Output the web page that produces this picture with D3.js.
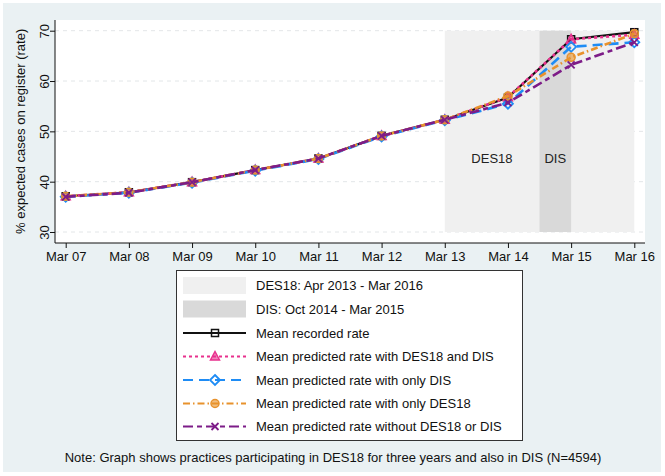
<!DOCTYPE html>
<html>
<head>
<meta charset="utf-8">
<script src="https://cdn.jsdelivr.net/npm/d3@7"></script>
<style>
  body { margin: 0; background: #fff; }
  svg { font-family: "Liberation Sans", Arial, sans-serif; }
</style>
</head>
<body>
<div class="chart"></div>
<script>
// years on the x axis
let years = ["Mar 07", "Mar 08", "Mar 09", "Mar 10", "Mar 11", "Mar 12", "Mar 13", "Mar 14", "Mar 15", "Mar 16"]
let yTicks = [30, 40, 50, 60, 70]

let recorded    = [37.1, 37.9, 39.9, 42.3, 44.6, 49.1, 52.3, 56.7, 68.3, 69.7]
let desAndDis   = [37.1, 37.9, 39.9, 42.3, 44.6, 49.1, 52.3, 56.8, 68.3, 69.2]
let onlyDis     = [37.0, 37.8, 39.8, 42.2, 44.5, 49.0, 52.2, 55.5, 66.8, 67.7]
let onlyDes     = [37.1, 37.9, 39.9, 42.3, 44.6, 49.1, 52.3, 57.0, 64.7, 69.4]
let withoutBoth = [37.0, 37.8, 39.9, 42.3, 44.6, 49.1, 52.3, 55.7, 63.2, 67.7]

// shaded periods, in x-index units (Mar 13 = 6)
let des18Period = [6, 9]
let disPeriod = [7.5, 8]

let series = [
  { name: "Mean recorded rate", values: recorded, color: "#111111", dash: null, marker: "square" },
  { name: "Mean predicted rate with DES18 and DIS", values: desAndDis, color: "#e8318d", dash: "3,3", marker: "triangle" },
  { name: "Mean predicted rate with only DIS", values: onlyDis, color: "#1e8cf5", dash: "10,6", marker: "diamond" },
  { name: "Mean predicted rate with only DES18", values: onlyDes, color: "#e8922c", dash: "7,3,1.5,3", marker: "circle" },
  { name: "Mean predicted rate without DES18 or DIS", values: withoutBoth, color: "#7d1c88", dash: "10,4,5,4", marker: "cross" }
]

let width = 665
let height = 476
let plot = { left: 55, right: 645, top: 20, bottom: 243 }
let fontSize = 13

let svg = d3.select(".chart")
  .append("svg")
  .attr("width", width)
  .attr("height", height)

svg.append("rect")
  .attr("x", 3).attr("y", 3)
  .attr("width", 658).attr("height", 469)
  .attr("fill", "#eaf1f3")

svg.append("rect")
  .attr("x", plot.left).attr("y", plot.top)
  .attr("width", plot.right - plot.left).attr("height", plot.bottom - plot.top)
  .attr("fill", "#ffffff")

let x = d3.scaleLinear().domain([0, years.length - 1]).range([65.7, 634.3])
let y = d3.scaleLinear().domain([30, 70]).range([232, 30.7])

// grid lines
svg.append("g")
  .selectAll("line")
  .data(yTicks)
  .enter()
  .append("line")
  .attr("x1", plot.left).attr("x2", plot.right)
  .attr("y1", d => y(d)).attr("y2", d => y(d))
  .attr("stroke", "#e3e6e8")
  .attr("stroke-dasharray", "4,4")

// shaded periods
svg.append("rect")
  .attr("x", x(des18Period[0])).attr("y", y(70))
  .attr("width", x(des18Period[1]) - x(des18Period[0]))
  .attr("height", y(30) - y(70))
  .attr("fill", "#f0f0f0")

svg.append("rect")
  .attr("x", x(disPeriod[0])).attr("y", y(70))
  .attr("width", x(disPeriod[1]) - x(disPeriod[0]))
  .attr("height", y(30) - y(70))
  .attr("fill", "#d9d9d9")

svg.append("text")
  .attr("x", x(7) - 16).attr("y", 163)
  .attr("text-anchor", "middle")
  .attr("font-size", fontSize)
  .attr("fill", "#222")
  .text("DES18")

svg.append("text")
  .attr("x", (x(disPeriod[0]) + x(disPeriod[1])) / 2).attr("y", 163)
  .attr("text-anchor", "middle")
  .attr("font-size", fontSize)
  .attr("fill", "#222")
  .text("DIS")

// axes
let xAxis = svg.append("g")
  .attr("transform", `translate(0,${plot.bottom})`)
  .call(d3.axisBottom(x).tickValues(d3.range(years.length)).tickFormat(i => years[i]).tickSize(5).tickSizeOuter(0))
xAxis.select(".domain").attr("d", `M${plot.left},0H${plot.right}`)

let yAxis = svg.append("g")
  .attr("transform", `translate(${plot.left},0)`)
  .call(d3.axisLeft(y).tickValues(yTicks).tickSize(5).tickSizeOuter(0))
yAxis.select(".domain").attr("d", `M0,${plot.top}V${plot.bottom}`)
yAxis.selectAll(".tick text")
  .attr("transform", "rotate(-90)")
  .attr("x", 0).attr("y", -6)
  .attr("dy", 0)
  .attr("text-anchor", "middle")

svg.selectAll(".tick text").attr("font-size", fontSize).attr("fill", "#111").attr("font-family", "Liberation Sans, Arial, sans-serif")
xAxis.selectAll(".tick text").attr("dy", "0.95em").attr("y", 6)
svg.selectAll(".domain, .tick line").attr("stroke", "#111")

svg.append("text")
  .attr("transform", `translate(25,${(y(30) + y(70)) / 2}) rotate(-90)`)
  .attr("text-anchor", "middle")
  .attr("font-size", fontSize)
  .attr("fill", "#111")
  .text("% expected cases on register (rate)")

let drawMarker = (g, type, color, cx, cy) => {
  if (type === "square") {
    g.append("rect").attr("x", cx - 3.5).attr("y", cy - 3.5).attr("width", 7).attr("height", 7)
      .attr("fill", "none").attr("stroke", color).attr("stroke-width", 1.5)
  } else if (type === "triangle") {
    g.append("path").attr("d", `M${cx},${cy - 5}L${cx + 4.5},${cy + 3.5}L${cx - 4.5},${cy + 3.5}Z`)
      .attr("fill", color).attr("fill-opacity", 0.6).attr("stroke", color).attr("stroke-width", 1.5)
  } else if (type === "diamond") {
    g.append("path").attr("d", `M${cx},${cy - 5}L${cx + 5},${cy}L${cx},${cy + 5}L${cx - 5},${cy}Z`)
      .attr("fill", "none").attr("stroke", color).attr("stroke-width", 1.8)
  } else if (type === "circle") {
    g.append("circle").attr("cx", cx).attr("cy", cy).attr("r", 4)
      .attr("fill", color).attr("fill-opacity", 0.6).attr("stroke", color).attr("stroke-width", 1.5)
  } else if (type === "cross") {
    g.append("path").attr("d", `M${cx - 3.5},${cy - 3.5}L${cx + 3.5},${cy + 3.5}M${cx - 3.5},${cy + 3.5}L${cx + 3.5},${cy - 3.5}`)
      .attr("stroke", color).attr("stroke-width", 1.8)
  }
}

let line = d3.line().x((d, i) => x(i)).y(d => y(d))

series.forEach(s => {
  let g = svg.append("g")
  g.append("path")
    .attr("d", line(s.values))
    .attr("fill", "none")
    .attr("stroke", s.color)
    .attr("stroke-width", s.dash ? 2.6 : 2.2)
    .attr("stroke-dasharray", s.dash)
  s.values.forEach((v, i) => drawMarker(g, s.marker, s.color, x(i), y(v)))
})

// legend
let legend = svg.append("g")
legend.append("rect")
  .attr("x", 176.5).attr("y", 270.5)
  .attr("width", 346).attr("height", 170)
  .attr("fill", "#fff").attr("stroke", "#333")

let rowY = [285.5, 309, 333, 356.5, 380, 403.5, 426.5]
let legendRows = [
  { name: "DES18: Apr 2013 - Mar 2016", fill: "#f0f0f0" },
  { name: "DIS: Oct 2014 - Mar 2015", fill: "#d9d9d9" }
].concat(series)

legendRows.forEach((r, i) => {
  let cy = rowY[i]
  if (r.fill) {
    legend.append("rect").attr("x", 183).attr("y", cy - 8.5).attr("width", 63).attr("height", 17).attr("fill", r.fill)
  } else {
    legend.append("line")
      .attr("x1", 183).attr("x2", 246).attr("y1", cy).attr("y2", cy)
      .attr("stroke", r.color).attr("stroke-width", 2)
      .attr("stroke-dasharray", r.dash)
    drawMarker(legend, r.marker, r.color, 215, cy)
  }
  legend.append("text")
    .attr("x", 256).attr("y", cy + 4.5)
    .attr("font-size", fontSize)
    .attr("fill", "#111")
    .text(r.name)
})

svg.append("text")
  .attr("x", 333).attr("y", 462)
  .attr("text-anchor", "middle")
  .attr("font-size", fontSize)
  .attr("fill", "#111")
  .text("Note: Graph shows practices participating in DES18 for three years and also in DIS (N=4594)")
</script>
</body>
</html>
